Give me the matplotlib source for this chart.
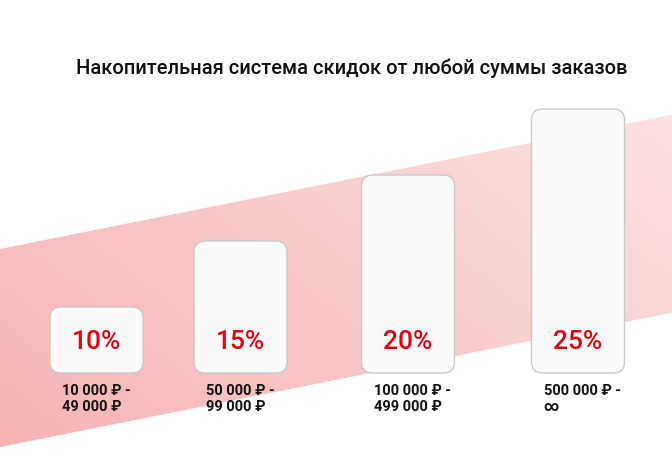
import numpy as np
import matplotlib.pyplot as plt
from matplotlib.patches import FancyBboxPatch, Polygon
from matplotlib.colors import LinearSegmentedColormap

title = "Накопительная система скидок от любой суммы заказов"
discounts = ["10%", "15%", "20%", "25%"]
tiers = [1, 2, 3, 4]
ranges = ["10 000 ₽ -\n49 000 ₽", "50 000 ₽ -\n99 000 ₽",
          "100 000 ₽ -\n499 000 ₽", "500 000 ₽ -\n∞"]

# layout (pixels)
W, H = 672, 457
centers = [96.5, 240.5, 408, 578]
bar_w = 93
base = 373      # pixel row of bar bottoms
unit = 66       # pixels per tier

fam = ['Roboto', 'DejaVu Sans']

fig = plt.figure(figsize=(W / 100, H / 100), dpi=100)
fig.patch.set_facecolor('white')

# background band
bg = fig.add_axes([0, 0, 1, 1])
bg.set_xlim(0, W)
bg.set_ylim(H, 0)
bg.axis('off')
xx, yy = np.meshgrid(np.linspace(0, 1, 200), np.linspace(0, 1, 200))
grad = 0.65 * xx + 0.55 * (1 - yy)
cmap = LinearSegmentedColormap.from_list('band', ['#f6b3b3', '#f9cdcd', '#fde8e8'])
img = bg.imshow(grad, extent=[0, W, H, 0], cmap=cmap, aspect='auto',
                origin='upper', zorder=0)
band = Polygon([[0, 249], [W, 249 - 0.2 * W], [W, 447 - 0.2 * W], [0, 447]],
               closed=True, facecolor='none', edgecolor='none')
bg.add_patch(band)
img.set_clip_path(band)

bg.text(76, 68, title, fontsize=14.5, fontweight='medium', color='#111111',
        ha='left', va='center', family=fam)

# bars
ax = fig.add_axes([0, 0, 1, 1])
ax.patch.set_alpha(0)
ax.set_xlim(0, W)
ax.set_ylim((base - H) / unit, base / unit)
ax.axis('off')

bars = ax.bar(centers, tiers, width=bar_w, color='none')
for b, pct, rng in zip(bars, discounts, ranges):
    x0, y0 = b.get_x(), b.get_y()
    w, h = b.get_width(), b.get_height()
    b.remove()
    box = FancyBboxPatch((x0, y0), w, h,
                         boxstyle="round,pad=0,rounding_size=11",
                         mutation_aspect=1 / unit,
                         facecolor='#fafafa', edgecolor='#c9c9c9', linewidth=1.0,
                         zorder=2)
    ax.add_patch(box)
    ax.text(x0 + w / 2, 31 / unit, pct, ha='center', va='center',
            fontsize=19, color='#e3000f', fontweight='medium', family=fam, zorder=3)
    ax.text(x0 + 12, -11 / unit, rng, ha='left', va='top', fontsize=10.5,
            fontweight='bold', color='#111111', family=fam,
            linespacing=1.15, zorder=3)

fig.savefig('out.png', dpi=100)
